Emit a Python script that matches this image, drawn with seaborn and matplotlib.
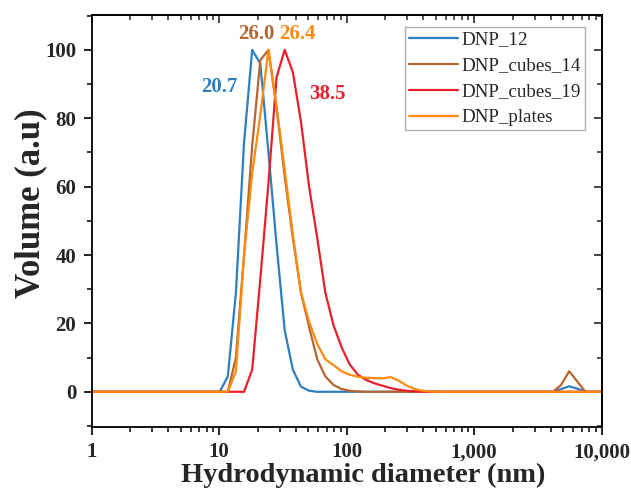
import numpy as np
import pandas as pd
import matplotlib
matplotlib.use("Agg")
import matplotlib.pyplot as plt
import seaborn as sns
from matplotlib.ticker import FixedLocator, FixedFormatter, LogLocator, NullFormatter, MultipleLocator

# ---------------- data ----------------
sizes_nm = [0.9649, 1.117, 1.294, 1.499, 1.736, 2.01, 2.328, 2.696, 3.122, 3.615, 4.187, 4.849, 5.615, 6.503, 7.531, 8.721,
            10.1, 11.7, 13.54, 15.69, 18.17, 21.04, 24.36, 28.21, 32.67, 37.84, 43.82, 50.75, 58.77, 68.06, 78.82, 91.28,
            105.7, 122.4, 141.8, 164.2, 190.1, 220.2, 255.0, 295.3, 342.0, 396.1, 458.7, 531.2, 615.1, 712.4, 825.0, 955.4,
            1106, 1281, 1484, 1718, 1990, 2305, 2669, 3091, 3580, 4145, 4801, 5560, 6439, 7456, 8635,
            10000]

dnp_12 = [0] * 16 + \
    [0, 4.5, 29, 73, 100, 96, 70, 43, 18, 6.5, 1.5, 0.3, 0, 0, 0, 0] + \
    [0] * 16 + \
    [0, 0, 0, 0, 0, 0, 0, 0, 0, 0, 0.8, 1.6, 0.9, 0, 0] + [0]

dnp_cubes_14 = [0] * 16 + \
    [0, 0, 10, 40, 72, 97, 100, 83, 63, 45, 29, 19, 9.5, 4.5, 2, 0.8] + \
    [0.3, 0.1, 0, 0, 0, 0, 0, 0, 0, 0, 0, 0, 0, 0, 0, 0] + \
    [0, 0, 0, 0, 0, 0, 0, 0, 0, 0, 2, 6, 3, 0, 0] + [0]

dnp_cubes_19 = [0] * 16 + \
    [0, 0, 0, 0, 6.5, 33, 61, 92, 100, 93.5, 79, 60, 45, 29, 19.5, 13] + \
    [8, 5, 3.5, 2.5, 1.8, 1.1, 0.6, 0.3, 0.15, 0.05, 0, 0, 0, 0, 0, 0] + \
    [0] * 15 + [0]

dnp_plates = [0] * 16 + \
    [0, 0, 6, 40, 64, 81, 100, 83.5, 65, 46, 29, 20.5, 14, 9.5, 7.8, 6] + \
    [5, 4.4, 4.1, 4.0, 3.9, 4.3, 3.3, 1.8, 0.8, 0.3, 0.05, 0, 0, 0, 0, 0] + \
    [0] * 15 + [0]

series_names = ["DNP_12", "DNP_cubes_14", "DNP_cubes_19", "DNP_plates"]
series_values = [dnp_12, dnp_cubes_14, dnp_cubes_19, dnp_plates]
series_colors = ["#2d7fc0", "#b5652f", "#ea1f2a", "#ff8a0d"]

peak_labels = ["20.7", "26.0", "38.5", "26.4"]
peak_label_pos = [(10.1, 89), (19.6, 104.6), (70.5, 87), (41.0, 104.6)]

x_ticks = [1, 10, 100, 1000, 10000]
x_tick_labels = ["1", "10", "100", "1,000", "10,000"]
y_ticks = [0, 20, 40, 60, 80, 100]

# ---------------- frame ----------------
rows = []
for name, vals in zip(series_names, series_values):
    for s, v in zip(sizes_nm, vals):
        rows.append({"size": s, "volume": v, "sample": name})
df = pd.DataFrame(rows)

sns.set_theme(style="ticks")
plt.rcParams["font.family"] = ["Liberation Serif", "DejaVu Serif"]

fig = plt.figure(figsize=(6.31, 4.98), dpi=100)
ax = fig.add_axes([91.6 / 631, 1 - 427 / 498, (601.7 - 91.6) / 631, (427 - 15) / 498])

sns.lineplot(data=df, x="size", y="volume", hue="sample", hue_order=series_names,
             palette=dict(zip(series_names, series_colors)), linewidth=1.6,
             errorbar=None, ax=ax)

ax.set_xscale("log")
ax.set_xlim(1, 10000)
ax.set_ylim(-10.3, 110.2)

ax.xaxis.set_major_locator(FixedLocator(x_ticks))
ax.xaxis.set_major_formatter(FixedFormatter(x_tick_labels))
ax.xaxis.set_minor_locator(LogLocator(base=10, subs=np.arange(2, 10)))
ax.xaxis.set_minor_formatter(NullFormatter())
ax.yaxis.set_major_locator(FixedLocator(y_ticks))
ax.yaxis.set_minor_locator(MultipleLocator(10))

for sp in ax.spines.values():
    sp.set_linewidth(1.3)
    sp.set_color("black")

ax.tick_params(which="major", direction="out", length=6, width=1.2, color="black",
               labelsize=15, pad=5)
ax.tick_params(which="minor", direction="out", length=3.5, width=1.1, color="black")
for lab in ax.get_xticklabels() + ax.get_yticklabels():
    lab.set_fontweight("bold")

# mirrored inward ticks on top and right
secx = ax.secondary_xaxis("top")
secx.set_xscale("log")
secx.xaxis.set_major_locator(FixedLocator(x_ticks))
secx.xaxis.set_minor_locator(LogLocator(base=10, subs=np.arange(2, 10)))
secx.xaxis.set_major_formatter(NullFormatter())
secx.xaxis.set_minor_formatter(NullFormatter())
secx.tick_params(which="major", direction="in", length=6, width=1.2)
secx.tick_params(which="minor", direction="in", length=3.5, width=1.1)
secx.spines["top"].set_linewidth(1.3)

secy = ax.secondary_yaxis("right")
secy.yaxis.set_major_locator(FixedLocator(y_ticks))
secy.yaxis.set_minor_locator(MultipleLocator(10))
secy.yaxis.set_major_formatter(NullFormatter())
secy.tick_params(which="major", direction="in", length=6, width=1.2)
secy.tick_params(which="minor", direction="in", length=3.5, width=1.1)
secy.spines["right"].set_linewidth(1.3)

ax.set_xlabel("Hydrodynamic diameter (nm)", fontsize=20.5, fontweight="bold")
ax.set_ylabel("Volume (a.u)", fontsize=25, fontweight="bold")
ax.xaxis.set_label_coords(0.533, -0.088)
ax.yaxis.set_label_coords(-0.086, 0.5425)

for txt, (px, py), col in zip(peak_labels, peak_label_pos, series_colors):
    ax.text(px, py, txt, color=col, fontsize=15, fontweight="bold", ha="center", va="center")

leg = ax.legend(loc="upper right", bbox_to_anchor=(585 / 631, 1 - 27.5 / 498),
                bbox_transform=fig.transFigure, borderaxespad=0, frameon=True,
                fancybox=False, edgecolor="#9a9a9a", fontsize=13.7, handlelength=2.6,
                handletextpad=0.18, labelspacing=0.45, borderpad=0.2, title=None)
leg.get_frame().set_linewidth(1.0)
for line in leg.get_lines():
    line.set_linewidth(1.6)

fig.savefig("out.png", dpi=100)
